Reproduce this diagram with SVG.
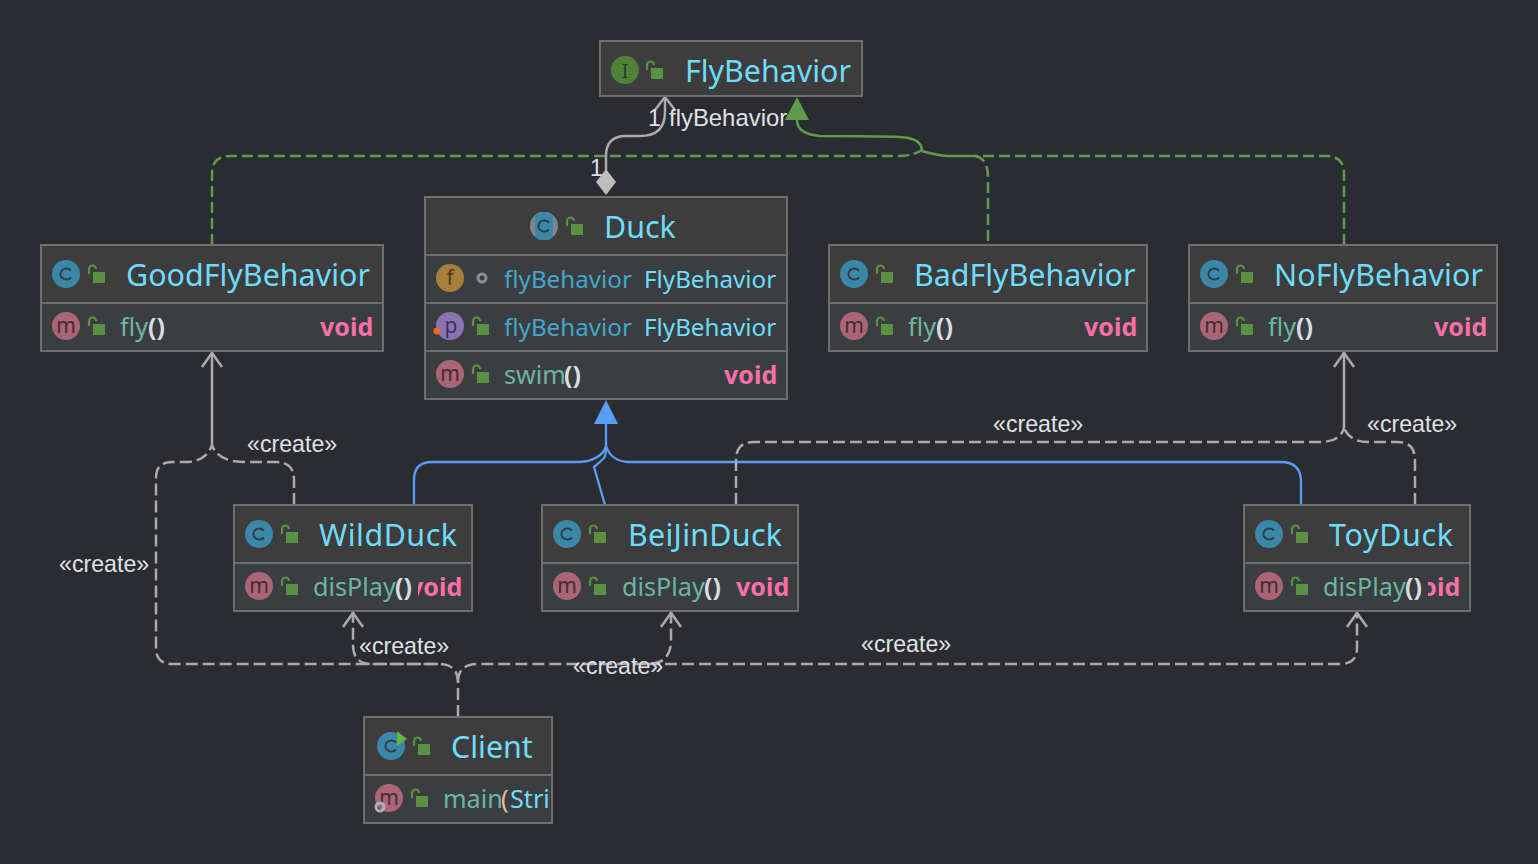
<svg xmlns="http://www.w3.org/2000/svg" xmlns:xlink="http://www.w3.org/1999/xlink" width="1538" height="864" viewBox="0 0 1538 864">
<style>
.t{font-family:"Noto Sans","Open Sans",sans-serif;font-size:30.400px;fill:#6fdcfb}
.m{font-family:"Noto Sans","Open Sans",sans-serif;font-size:25.200px;fill:#6db5a3}
.fd{font-family:"Noto Sans","Open Sans",sans-serif;font-size:24.200px;fill:#45a5cc}
.ty{font-family:"Noto Sans","Open Sans",sans-serif;font-size:24.200px;fill:#6fdcfb}
.p{font-family:"Noto Sans","Open Sans",sans-serif;font-size:25px;font-weight:700;fill:#d8dde2}
.v{font-family:"Noto Sans","Open Sans",sans-serif;font-size:25px;font-weight:700;fill:#fb6fa9}
.box{fill:#3a3e41;stroke:#6e6e6e;stroke-width:2}
.hd{fill:#3d3d3d}
.dv{stroke:#6e6e6e;stroke-width:2;fill:none}
.ic{font-family:"Noto Sans","DejaVu Sans",sans-serif;font-size:21px;text-anchor:middle}
.lb{font-family:"Liberation Sans",Arial,sans-serif;font-size:23.200px;fill:#dfe1e5}
.g{fill:none;stroke:#5f9b4c;stroke-width:2.500}
.gd{stroke-dasharray:11 5}
.b{fill:none;stroke:#589df6;stroke-width:2.300}
.c{fill:none;stroke:#ababab;stroke-width:2.500}
.cd{stroke-dasharray:12 5}
.ar{fill:none;stroke:#ababab;stroke-width:2.500}
</style>
<defs>
<g id="lock"><path d="M-7 -1V-6a3.500 3.500 0 0 1 7 0" fill="none" stroke="#5a9143" stroke-width="2.200"/><rect x="-3" y="-3" width="12" height="11" fill="#5a9143"/></g>
<g id="cls"><circle r="14" fill="#3b87a7"/><path d="M5 -3.500A6 5.500 0 1 0 5 3.500" fill="none" stroke="#2c3e48" stroke-width="2"/></g>
<g id="mth"><circle r="14" fill="#aa6677"/><text class="ic" y="7" fill="#4a2a32">m</text></g>
</defs>
<rect width="1538" height="864" fill="#2b2c31"/>

<g id="connectors">
<path class="g gd" d="M212 245V174Q212 156 230 156H900Q915 155 922 150"/>
<path class="g gd" d="M1344 245V174Q1344 156 1326 156H975"/>
<path class="g" d="M922 151Q932 154 946 156H975"/>
<path class="g gd" d="M975 156Q988 158 988 178V245"/>
<path class="g" d="M922 151Q922 138 900 137Q880 136 820 136Q797 134 797 120V118"/>
<path d="M797 97L785 120H809Z" fill="#5f9b4c"/>
<path class="c" d="M606 170V156Q606 136 626 136H640Q665 136 665 112V98"/>
<path d="M655 110L665 97L675 110" class="ar"/>
<path d="M606 169L616 182L606 195L596 182Z" fill="#bdbdbd"/>
<path class="b" d="M606 424V446Q604 456 588 461L580 462H432Q414 462 414 480V505"/>
<path class="b" d="M605 505L594 467Q600 462 604 458Q606 455 606 448"/>
<path class="b" d="M1301 505V482Q1301 462 1281 462H628Q611 461 606 446"/>
<path d="M606 400L594 424H618Z" fill="#589df6"/>
<path class="c" d="M212 352V445"/>
<path class="ar" d="M202 367L212 353L222 367"/>
<path class="c cd" d="M294 505V480Q294 462 276 462H245Q218 462 212 445"/>
<path class="c cd" d="M458 717V682Q458 664 438 664H172Q156 664 156 648V478Q156 462 172 462H185Q206 462 212 445"/>
<path class="c cd" d="M438 664H372Q353 664 353 645V612"/>
<path class="ar" d="M343 627L353 613L363 627"/>
<path class="c cd" d="M458 682Q458 664 478 664H648Q671 664 671 640V612"/>
<path class="ar" d="M661 627L671 613L681 627"/>
<path class="c cd" d="M648 664H1340Q1357 664 1357 648V612"/>
<path class="ar" d="M1347 627L1357 613L1367 627"/>
<path class="c" d="M1344 352V428"/>
<path class="ar" d="M1334 367L1344 353L1354 367"/>
<path class="c cd" d="M736 505V460Q736 442 754 442H1320Q1340 442 1344 428"/>
<path class="c cd" d="M1415 505V460Q1415 442 1397 442H1368Q1350 442 1344 428"/>
</g>

<g id="labels">
<text class="lb" x="648" y="126">1</text>
<text class="lb" style="font-size:23.900px" x="669" y="126">flyBehavior</text>
<text class="lb" x="590" y="176">1</text>
<text class="lb" x="247" y="452">«create»</text>
<text class="lb" x="59" y="572">«create»</text>
<text class="lb" x="359" y="654">«create»</text>
<text class="lb" x="573" y="674">«create»</text>
<text class="lb" x="861" y="652">«create»</text>
<text class="lb" x="993" y="432">«create»</text>
<text class="lb" x="1367" y="432">«create»</text>
</g>

<g id="FlyBehavior">
<rect class="hd" x="600" y="41" width="262" height="55" stroke="#6e6e6e" stroke-width="2"/>
<circle cx="625" cy="70" r="14" fill="#4f8238"/><text class="ic" x="625" y="78" fill="#2b3a22" style="font-family:'DejaVu Serif',serif;font-size:18px">I</text>
<use xlink:href="#lock" href="#lock" x="654" y="71"/>
<text class="t" x="685" y="82">FlyBehavior</text>
</g>

<g id="Duck">
<rect class="box" x="425" y="197" width="362" height="202"/>
<rect class="hd" x="426" y="198" width="360" height="57"/>
<path class="dv" d="M426 255H786M426 303H786M426 351H786"/>
<circle cx="544" cy="226" r="14" fill="#80868c"/><rect x="535" y="212" width="18" height="28" rx="6" fill="#3b87a7"/><path d="M549 222.500A6 5.500 0 1 0 549 229.500" fill="none" stroke="#2c3e48" stroke-width="2"/>
<use xlink:href="#lock" href="#lock" x="574" y="227"/>
<text class="t" x="604" y="238">Duck</text>
<circle cx="450" cy="278" r="14" fill="#a67f3c"/><text class="ic" x="450" y="285" fill="#4f3b1b">f</text>
<circle cx="482" cy="278" r="4" fill="none" stroke="#8a8f94" stroke-width="3"/>
<text class="fd" x="504" y="288">flyBehavior</text><text class="ty" x="644" y="288">FlyBehavior</text>
<circle cx="450" cy="326" r="14" fill="#8a72b3"/><text class="ic" x="451" y="333" fill="#3e3157">p</text><circle cx="437" cy="331" r="3.500" fill="#f26522"/>
<use xlink:href="#lock" href="#lock" x="480" y="327"/>
<text class="fd" x="504" y="336">flyBehavior</text><text class="ty" x="644" y="336">FlyBehavior</text>
<use xlink:href="#mth" href="#mth" x="450" y="374"/>
<use xlink:href="#lock" href="#lock" x="480" y="375"/>
<text class="m" x="504" y="384">swim</text><text class="p" x="564" y="384">()</text>
<text class="v" x="724" y="384">void</text>
</g>

<g id="GoodFlyBehavior">
<rect class="box" x="41" y="245" width="342" height="106"/>
<rect class="hd" x="42" y="246" width="340" height="57"/>
<path class="dv" d="M42 303H382"/>
<use xlink:href="#cls" href="#cls" x="66" y="274"/>
<use xlink:href="#lock" href="#lock" x="96" y="275"/>
<text class="t" x="126" y="286" textLength="244">GoodFlyBehavior</text>
<use xlink:href="#mth" href="#mth" x="66" y="326"/>
<use xlink:href="#lock" href="#lock" x="96" y="327"/>
<text class="m" x="120" y="336">fly</text><text class="p" x="148" y="336">()</text>
<text class="v" x="320" y="336">void</text>
</g>

<g id="BadFlyBehavior">
<rect class="box" x="829" y="245" width="318" height="106"/>
<rect class="hd" x="830" y="246" width="316" height="57"/>
<path class="dv" d="M830 303H1146"/>
<use xlink:href="#cls" href="#cls" x="854" y="274"/>
<use xlink:href="#lock" href="#lock" x="884" y="275"/>
<text class="t" x="914" y="286">BadFlyBehavior</text>
<use xlink:href="#mth" href="#mth" x="854" y="326"/>
<use xlink:href="#lock" href="#lock" x="884" y="327"/>
<text class="m" x="908" y="336">fly</text><text class="p" x="936" y="336">()</text>
<text class="v" x="1084" y="336">void</text>
</g>

<g id="NoFlyBehavior">
<rect class="box" x="1189" y="245" width="308" height="106"/>
<rect class="hd" x="1190" y="246" width="306" height="57"/>
<path class="dv" d="M1190 303H1496"/>
<use xlink:href="#cls" href="#cls" x="1214" y="274"/>
<use xlink:href="#lock" href="#lock" x="1244" y="275"/>
<text class="t" x="1274" y="286" textLength="209">NoFlyBehavior</text>
<use xlink:href="#mth" href="#mth" x="1214" y="326"/>
<use xlink:href="#lock" href="#lock" x="1244" y="327"/>
<text class="m" x="1268" y="336">fly</text><text class="p" x="1296" y="336">()</text>
<text class="v" x="1434" y="336">void</text>
</g>

<g id="WildDuck">
<rect class="box" x="234" y="505" width="238" height="106"/>
<rect class="hd" x="235" y="506" width="236" height="57"/>
<path class="dv" d="M235 563H471"/>
<use xlink:href="#cls" href="#cls" x="259" y="534"/>
<use xlink:href="#lock" href="#lock" x="289" y="535"/>
<text class="t" x="319" y="546" textLength="138">WildDuck</text>
<use xlink:href="#mth" href="#mth" x="259" y="586"/>
<use xlink:href="#lock" href="#lock" x="289" y="587"/>
<text class="v" x="409" y="596">void</text>
<rect x="380" y="565" width="38" height="45" fill="#3a3e41"/>
<text class="m" x="313" y="596">disPlay</text><text class="p" x="395" y="596">()</text>
</g>

<g id="BeiJinDuck">
<rect class="box" x="542" y="505" width="256" height="106"/>
<rect class="hd" x="543" y="506" width="254" height="57"/>
<path class="dv" d="M543 563H797"/>
<use xlink:href="#cls" href="#cls" x="567" y="534"/>
<use xlink:href="#lock" href="#lock" x="597" y="535"/>
<text class="t" x="628" y="546" textLength="154">BeiJinDuck</text>
<use xlink:href="#mth" href="#mth" x="567" y="586"/>
<use xlink:href="#lock" href="#lock" x="597" y="587"/>
<text class="m" x="622" y="596">disPlay</text><text class="p" x="704" y="596">()</text>
<text class="v" x="736" y="596">void</text>
</g>

<g id="ToyDuck">
<rect class="box" x="1244" y="505" width="226" height="106"/>
<rect class="hd" x="1245" y="506" width="224" height="57"/>
<path class="dv" d="M1245 563H1469"/>
<use xlink:href="#cls" href="#cls" x="1269" y="534"/>
<use xlink:href="#lock" href="#lock" x="1299" y="535"/>
<text class="t" x="1329" y="546" textLength="124">ToyDuck</text>
<use xlink:href="#mth" href="#mth" x="1269" y="586"/>
<use xlink:href="#lock" href="#lock" x="1299" y="587"/>
<text class="v" x="1407" y="596">void</text>
<rect x="1390" y="565" width="38" height="45" fill="#3a3e41"/>
<text class="m" x="1323" y="596">disPlay</text><text class="p" x="1405" y="596">()</text>
</g>

<g id="Client">
<rect class="box" x="364" y="717" width="188" height="106"/>
<rect class="hd" x="365" y="718" width="186" height="57"/>
<path class="dv" d="M365 775H551"/>
<use xlink:href="#cls" href="#cls" x="391" y="746"/>
<path d="M397 731L407 739L397 746Z" fill="#62b543"/>
<use xlink:href="#lock" href="#lock" x="421" y="747"/>
<text class="t" x="451" y="758">Client</text>
<use xlink:href="#mth" href="#mth" x="389" y="798"/>
<circle cx="380" cy="807" r="4" fill="none" stroke="#a9b2bd" stroke-width="3"/>
<use xlink:href="#lock" href="#lock" x="419" y="799"/>
<text class="m" x="443" y="808">main</text>
<svg x="365" y="776" width="186" height="46" viewBox="365 776 186 46"><text class="p" style="font-weight:400;fill:#e8bf9a" x="501" y="808">(</text><text class="ty" style="font-size:25.200px" x="510" y="808">String[]</text></svg>
</g>
</svg>
